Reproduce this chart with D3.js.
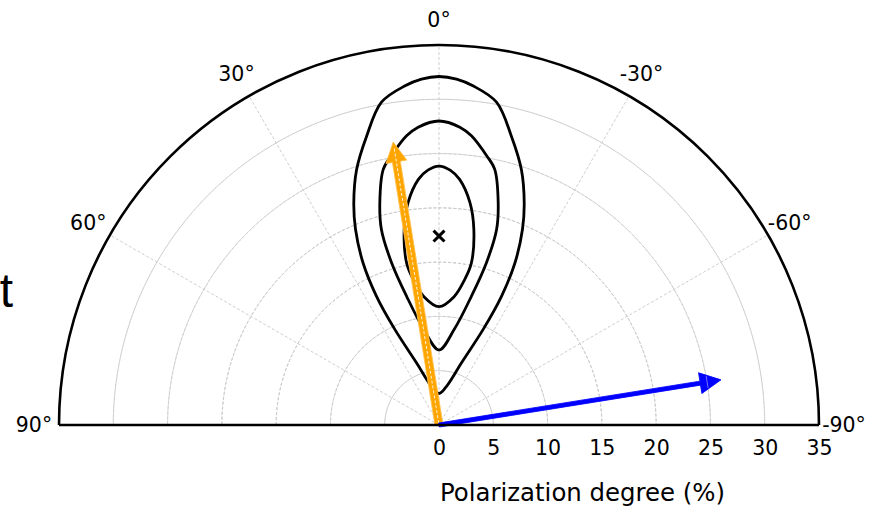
<!DOCTYPE html>
<html>
<head>
<meta charset="utf-8">
<script src="https://cdn.jsdelivr.net/npm/d3@7"></script>
<style>
  body { margin: 0; background: #fff; }
  text { font-family: "DejaVu Sans", sans-serif; fill: #000; }
</style>
</head>
<body>
<svg class="polar" width="879" height="507"></svg>
<script>
// radial axis (polarization degree, %)
const rTicks = [0, 5, 10, 15, 20, 25, 30, 35];
const gridRadii = [5, 10, 15, 20, 25, 30];
// angle axis (degrees, positive to the left)
const thetaTicks = [90, 60, 30, 0, -30, -60, -90];
const thetaLabels = ['90°', '60°', '30°', '0°', '-30°', '-60°', '-90°'];
const gridAngles = [60, 30, 0, -30, -60];

// confidence contours: [angle deg, polarization %]
const contourOuter = [
  [0, 32.1], [2.9, 31.9], [5.7, 31.4], [10.1, 30.2], [14.1, 27.4], [17.9, 24.7],
  [21.0, 21.9], [23.1, 19.6], [25.1, 16.5], [25.9, 13.2], [24.8, 9.7], [19.9, 6.1],
  [10.8, 3.6], [0, 2.9],
  [-10.8, 3.6], [-19.9, 6.1], [-24.8, 9.7], [-25.9, 13.2], [-25.1, 16.5],
  [-23.1, 19.6], [-21.0, 21.9], [-17.9, 24.7], [-14.1, 27.4], [-10.1, 30.2],
  [-5.7, 31.4], [-2.9, 31.9]
];
const contourMiddle = [
  [0, 28.0], [4.0, 27.5], [6.4, 26.8], [10.0, 25.2], [12.3, 24.1], [14.9, 21.2],
  [16.4, 18.8], [16.3, 15.6], [14.1, 12.2], [9.0, 8.9], [0, 6.9],
  [-9.0, 8.9], [-14.1, 12.2], [-16.3, 15.6], [-16.4, 18.8], [-14.9, 21.2],
  [-12.3, 24.1], [-10.0, 25.2], [-6.4, 26.8], [-4.0, 27.5]
];
const contourInner = [
  [0, 23.85], [2.5, 23.5], [4.8, 22.7], [7.9, 20.7], [10.1, 18.3], [11.3, 15.2],
  [10.0, 13.6], [6.7, 11.9], [0, 10.9],
  [-6.7, 11.9], [-10.0, 13.6], [-11.3, 15.2], [-10.1, 18.3], [-7.9, 20.7],
  [-4.8, 22.7], [-2.5, 23.5]
];

// best-fit marker
const markerTheta = 0;
const markerR = 17.4;

// arrows
const arrowTheta = [9.2, -80.9];
const arrowR = [26.4, 26.3];
const arrowColors = ['orange', 'blue'];

const svg = d3.select('.polar');
const cx = 439, cy = 425, R = 380;

const r = d3.scaleLinear().domain([0, 35]).range([0, R]);
const rad = d => d * Math.PI / 180;
const px = (t, v) => -r(v) * Math.sin(rad(t));
const py = (t, v) => -r(v) * Math.cos(rad(t));

const g = svg.append('g').attr('transform', `translate(${cx},${cy})`);

// grid
const arc = d3.arc().startAngle(-Math.PI / 2).endAngle(Math.PI / 2);
g.selectAll('.grid-circle')
  .data(gridRadii)
  .enter().append('path')
  .attr('d', d => arc({ innerRadius: r(d), outerRadius: r(d) }))
  .attr('fill', 'none')
  .attr('stroke', '#c8c8c8')
  .attr('stroke-width', 0.9)
  .attr('stroke-dasharray', '3,2');

g.selectAll('.grid-ray')
  .data(gridAngles)
  .enter().append('line')
  .attr('x1', 0).attr('y1', 0)
  .attr('x2', d => px(d, 35)).attr('y2', d => py(d, 35))
  .attr('stroke', '#c8c8c8')
  .attr('stroke-width', 0.9)
  .attr('stroke-dasharray', '3,2');

// contours
const contourLine = d3.lineRadial()
  .angle(d => -rad(d[0]))
  .radius(d => r(d[1]))
  .curve(d3.curveCatmullRomClosed.alpha(0.5));

g.selectAll('.contour')
  .data([contourOuter, contourMiddle, contourInner])
  .enter().append('path')
  .attr('d', contourLine)
  .attr('fill', 'none')
  .attr('stroke', '#000')
  .attr('stroke-width', 2.8);

// arrows
const arrowShape = (L, w, hw, hl) =>
  `M${-w},0L${-w},${-(L - hl)}L${-hw},${-(L - hl)}L0,${-L}L${hw},${-(L - hl)}L${w},${-(L - hl)}L${w},0Z`;

arrowTheta.forEach((t, i) => {
  const L = r(arrowR[i]);
  const a = g.append('g').attr('transform', `rotate(${-t})`);
  if (arrowColors[i] === 'orange') {
    a.append('path')
      .attr('d', arrowShape(L, 4, 10.5, 20))
      .attr('fill', 'orange')
      .attr('stroke', '#ffc14d')
      .attr('stroke-width', 0.8);
    a.append('line')
      .attr('x1', 0).attr('y1', -2)
      .attr('x2', 0).attr('y2', -(L - 6))
      .attr('stroke', '#fff')
      .attr('stroke-width', 1)
      .attr('stroke-dasharray', '3,2')
      .attr('opacity', 0.85);
  } else {
    a.append('path')
      .attr('d', arrowShape(L, 2, 10.5, 21))
      .attr('fill', 'blue')
      .attr('stroke', 'blue')
      .attr('stroke-width', 0.8);
    a.append('line')
      .attr('x1', -6).attr('y1', -(L - 14))
      .attr('x2', 6).attr('y2', -(L - 14))
      .attr('stroke', '#6f6fff')
      .attr('stroke-width', 1);
  }
});

// marker
g.append('path')
  .attr('d', d3.symbol(d3.symbolX, 80)())
  .attr('transform', `translate(${px(markerTheta, markerR)},${py(markerTheta, markerR)})`)
  .attr('fill', 'none')
  .attr('stroke', '#000')
  .attr('stroke-width', 3);

// frame
g.append('path')
  .attr('d', arc({ innerRadius: R, outerRadius: R }))
  .attr('fill', 'none')
  .attr('stroke', '#000')
  .attr('stroke-width', 2.6);
g.append('line')
  .attr('x1', -R).attr('x2', R)
  .attr('y1', 0).attr('y2', 0)
  .attr('stroke', '#000')
  .attr('stroke-width', 2.6);

// angle labels
g.selectAll('.theta-label')
  .data(thetaTicks)
  .enter().append('text')
  .attr('x', d => -(R + 25) * Math.sin(rad(d)))
  .attr('y', d => -(R + 25) * Math.cos(rad(d)))
  .attr('dy', '0.35em')
  .attr('text-anchor', 'middle')
  .style('font-size', '20.5px')
  .text((d, i) => thetaLabels[i]);

// radial axis
const rAxis = d3.axisBottom(r)
  .tickValues(rTicks)
  .tickSize(0)
  .tickPadding(15);

const rAxisG = g.append('g').call(rAxis);
rAxisG.select('.domain').remove();
rAxisG.selectAll('text')
  .style('font-family', '"DejaVu Sans", sans-serif')
  .style('font-size', '20.5px')
  .attr('fill', '#000');

svg.append('text')
  .attr('x', 440)
  .attr('y', 501)
  .style('font-size', '24.4px')
  .text('Polarization degree (%)');

// clipped label at left edge
svg.append('text')
  .attr('x', 13)
  .attr('y', 307)
  .attr('text-anchor', 'end')
  .style('font-family', '"Liberation Sans", sans-serif')
  .style('font-size', '48px')
  .text('t');
</script>
</body>
</html>
